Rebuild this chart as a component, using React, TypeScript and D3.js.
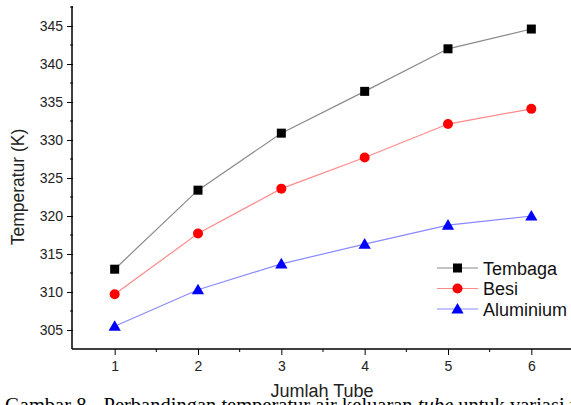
import { useRef, useEffect } from 'react';
import * as d3 from 'd3';

const tubes = [1, 2, 3, 4, 5, 6];
const tembaga = [313.0, 323.4, 330.9, 336.4, 342.0, 344.6];
const besi = [309.7, 317.7, 323.6, 327.7, 332.1, 334.1];
const aluminium = [305.5, 310.3, 313.7, 316.3, 318.8, 320.0];
const yTicks = [305, 310, 315, 320, 325, 330, 335, 340, 345];
const xTicks = [1, 2, 3, 4, 5, 6];

const series = [
  { name: 'Tembaga', values: tembaga, line: '#8a8a8a', fill: '#000000', shape: 'square' },
  { name: 'Besi', values: besi, line: '#ff8a8a', fill: '#ff0000', shape: 'circle' },
  { name: 'Aluminium', values: aluminium, line: '#8a8aff', fill: '#0000ff', shape: 'triangle' },
];

const W = 571;
const H = 405;

export default function App() {
  const ref = useRef<SVGSVGElement>(null);

  useEffect(() => {
    if (!ref.current) return;
    const svg = d3.select(ref.current);
    svg.selectAll('*').remove();

    const left = 73;
    const bottom = 349;
    const top = 7;
    const x = d3.scaleLinear().domain([0.5, 6.5]).range([left, 573]);
    const y = d3.scaleLinear().domain([302.5, 347.5]).range([bottom, top]);

    const font = 'Arial, "Liberation Sans", sans-serif';

    const drawMarker = (g: any, shape: string, cx: number, cy: number, fill: string) => {
      if (shape === 'square') {
        g.append('rect').attr('x', cx - 4.5).attr('y', cy - 4.5).attr('width', 9).attr('height', 9).attr('fill', fill);
      } else if (shape === 'circle') {
        g.append('circle').attr('cx', cx).attr('cy', cy).attr('r', 5).attr('fill', fill);
      } else {
        g.append('path')
          .attr('d', d3.symbol(d3.symbolTriangle, 65)())
          .attr('transform', `translate(${cx},${cy + 1})`)
          .attr('fill', fill);
      }
    };

    // lines and markers
    const line = d3.line<number>().x((_, i) => x(tubes[i])).y(d => y(d));
    series.forEach(s => {
      svg.append('path').attr('d', line(s.values)).attr('fill', 'none').attr('stroke', s.line).attr('stroke-width', 1.2);
      const g = svg.append('g');
      s.values.forEach((v, i) => drawMarker(g, s.shape, x(tubes[i]), y(v), s.fill));
    });

    // y axis
    const yAxis = svg.append('g').attr('transform', `translate(${left},0)`)
      .call(d3.axisLeft(y).tickValues(yTicks).tickSize(6).tickPadding(4).tickFormat(d3.format('d')));
    yAxis.select('.domain').attr('stroke-width', 1.5).attr('d', `M0,${top}H-1V${bottom}`);
    yAxis.selectAll('text').attr('font-family', font).attr('font-size', 14).attr('fill', '#222');
    const yMinor = d3.range(305, 347.5, 2.5).filter(v => !yTicks.includes(v));
    yAxis.selectAll('.minor').data([...yMinor, 347.5]).join('line')
      .attr('x1', 0).attr('x2', -3).attr('y1', d => y(d)).attr('y2', d => y(d)).attr('stroke', '#000');

    // x axis
    const xAxis = svg.append('g').attr('transform', `translate(0,${bottom})`)
      .call(d3.axisBottom(x).tickValues(xTicks).tickSize(6).tickPadding(6).tickFormat(d3.format('d')));
    xAxis.select('.domain').attr('stroke-width', 1.5).attr('d', `M${left - 1},0H${W}`);
    xAxis.selectAll('text').attr('font-family', font).attr('font-size', 14).attr('fill', '#222');
    xAxis.selectAll('.minor').data([1.5, 2.5, 3.5, 4.5, 5.5]).join('line')
      .attr('x1', d => x(d)).attr('x2', d => x(d)).attr('y1', 0).attr('y2', 3).attr('stroke', '#000');

    // axis titles
    svg.append('text').attr('transform', 'translate(24,187) rotate(-90)').attr('text-anchor', 'middle')
      .attr('font-family', font).attr('font-size', 17.5).attr('fill', '#222').text('Temperatur (K)');
    svg.append('text').attr('x', 322).attr('y', 397).attr('text-anchor', 'middle')
      .attr('font-family', font).attr('font-size', 18).attr('fill', '#222').text('Jumlah Tube');

    // legend
    series.forEach((s, i) => {
      const ly = 268 + i * 20.5;
      const g = svg.append('g');
      g.append('line').attr('x1', 437).attr('x2', 478).attr('y1', ly).attr('y2', ly).attr('stroke', s.line).attr('stroke-width', 1.2);
      drawMarker(g, s.shape, 457.5, ly, s.fill);
      g.append('text').attr('x', 483).attr('y', ly + 6.5).attr('font-family', font).attr('font-size', 18).attr('fill', '#111').text(s.name);
    });

    // caption
    const cap = svg.append('text').attr('x', 5).attr('y', 412).attr('font-family', '"Liberation Serif", "Times New Roman", serif')
      .attr('font-size', 20.5).attr('fill', '#000');
    cap.append('tspan').text('Gambar 8.');
    cap.append('tspan').attr('dx', 12).text('Perbandingan temperatur air keluaran ');
    cap.append('tspan').attr('font-style', 'italic').text('tube');
    cap.append('tspan').text(' untuk variasi material');
  }, []);

  return (
    <svg ref={ref} width={W} height={H} style={{ position: 'absolute', left: 0, top: 0, background: '#fff' }} />
  );
}
